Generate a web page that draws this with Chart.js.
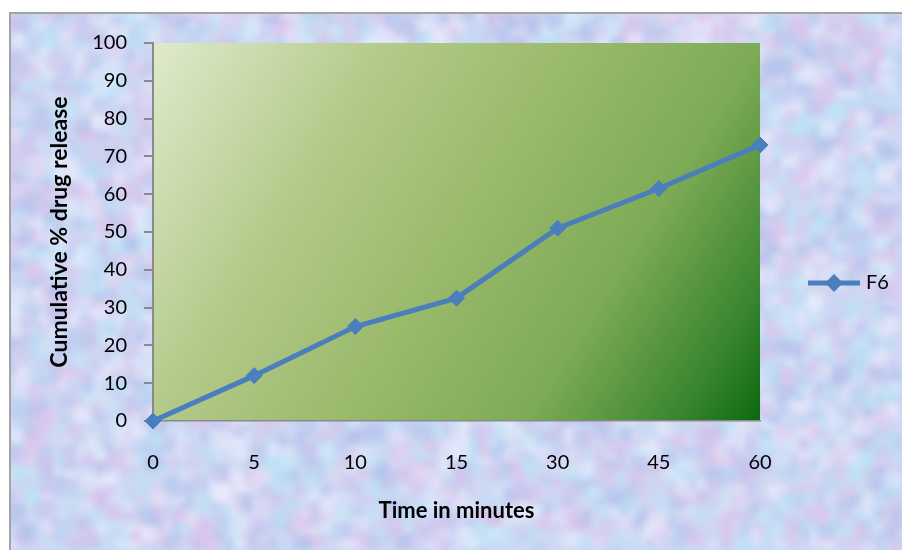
<!DOCTYPE html>
<html>
<head>
<meta charset="utf-8">
<script src="https://cdn.jsdelivr.net/npm/chart.js@4.4.1/dist/chart.umd.min.js"></script>
<style>
  html, body { margin: 0; padding: 0; background: #ffffff; }
  #wrap { width: 902px; height: 550px; }
</style>
</head>
<body>
<div id="wrap"><canvas id="releaseChart" width="902" height="550"></canvas></div>
<script>
// Chart data
var timeLabels = ['0', '5', '10', '15', '30', '45', '60'];
var f6Release = [0, 12, 25, 32.5, 51, 61.5, 73];
var seriesName = 'F6';
var yTicksMin = 0;
var yTicksMax = 100;
var yTicksStep = 10;

var lineBlue = '#4a7ebd';
var axisGray = '#8a8a8a';
var fontFamily = 'Lato, "Open Sans", sans-serif';

// Mottled lavender background, seeded so it draws the same every time
function makeTexture(w, h) {
    var raw = document.createElement('canvas');
    raw.width = w; raw.height = h;
    var g = raw.getContext('2d');
    g.fillStyle = '#cdd8f2';
    g.fillRect(0, 0, w, h);
    var seed = 12345;
    function rnd() {
        seed = (seed * 1103515245 + 12345) % 2147483648;
        return seed / 2147483648;
    }
    var tints = ['rgba(222,196,236,0.45)', 'rgba(188,228,246,0.45)',
                 'rgba(176,190,234,0.40)', 'rgba(234,238,252,0.45)'];
    for (var i = 0; i < 7000; i++) {
        var x = rnd() * w, y = rnd() * h, r = 3 + rnd() * 7;
        g.fillStyle = tints[Math.floor(rnd() * tints.length)];
        g.fillRect(x - r, y - r, r * 2, r * 2);
    }
    var soft = document.createElement('canvas');
    soft.width = w; soft.height = h;
    var s = soft.getContext('2d');
    s.fillStyle = '#cdd8f2';
    s.fillRect(0, 0, w, h);
    s.filter = 'blur(3px)';
    s.drawImage(raw, 0, 0);
    s.filter = 'none';
    return soft;
}

var backgroundPlugin = {
    id: 'sheetBackground',
    beforeDraw: function(chart) {
        var ctx = chart.ctx;
        var w = chart.width, h = chart.height;
        ctx.save();
        ctx.fillStyle = '#ffffff';
        ctx.fillRect(0, 0, w, h);
        if (!chart.$texture) chart.$texture = makeTexture(w, h);
        ctx.drawImage(chart.$texture, 11, 14, w - 11, h - 14, 11, 14, w - 11, h - 14);
        ctx.strokeStyle = '#a3a3a3';
        ctx.lineWidth = 2;
        ctx.beginPath();
        ctx.moveTo(10, h);
        ctx.lineTo(10, 13);
        ctx.lineTo(w, 13);
        ctx.stroke();

        // plot area gradient
        var a = chart.chartArea;
        var grad = ctx.createLinearGradient(a.left, a.top, a.right, a.bottom);
        grad.addColorStop(0, '#dfeacc');
        grad.addColorStop(0.28, '#b3ca8a');
        grad.addColorStop(0.5, '#9aba6c');
        grad.addColorStop(0.72, '#7eab56');
        grad.addColorStop(0.9, '#3a8530');
        grad.addColorStop(1, '#0b690f');
        ctx.fillStyle = grad;
        ctx.fillRect(a.left, a.top, a.right - a.left, a.bottom - a.top);
        ctx.restore();
    }
};

// Legend entry on the right, drawn with the dataset's own style
var sideLegendPlugin = {
    id: 'sideLegend',
    afterDraw: function(chart) {
        var ds = chart.data.datasets[0];
        var ctx = chart.ctx;
        var y = 283;
        ctx.save();
        ctx.strokeStyle = ds.borderColor;
        ctx.lineWidth = ds.borderWidth;
        ctx.beginPath();
        ctx.moveTo(808, y);
        ctx.lineTo(860, y);
        ctx.stroke();
        ctx.fillStyle = ds.pointBackgroundColor;
        ctx.beginPath();
        ctx.moveTo(834 - 9, y);
        ctx.lineTo(834, y - 9);
        ctx.lineTo(834 + 9, y);
        ctx.lineTo(834, y + 9);
        ctx.closePath();
        ctx.fill();
        ctx.fillStyle = '#000000';
        ctx.font = '20px ' + fontFamily;
        ctx.textBaseline = 'middle';
        ctx.fillText(ds.label, 866, y);
        ctx.restore();
    }
};

var ctx = document.getElementById('releaseChart');
new Chart(ctx, {
    type: 'line',
    data: {
        labels: timeLabels,
        datasets: [{
            label: seriesName,
            data: f6Release,
            borderColor: lineBlue,
            borderWidth: 5,
            pointStyle: 'rectRot',
            pointRadius: 8,
            pointBorderWidth: 1,
            pointBackgroundColor: lineBlue,
            pointBorderColor: lineBlue,
            tension: 0,
            clip: false
        }]
    },
    options: {
        responsive: false,
        animation: false,
        layout: { padding: { left: 0, top: 43, right: 142, bottom: 0 } },
        plugins: {
            legend: { display: false },
            tooltip: { enabled: false }
        },
        scales: {
            x: {
                type: 'category',
                offset: false,
                afterFit: function(scale) { scale.height = 129; },
                grid: { drawOnChartArea: false, drawTicks: false },
                border: { display: true, color: axisGray, width: 1.5 },
                ticks: {
                    color: '#000000',
                    padding: 30,
                    font: { family: fontFamily, size: 20 }
                },
                title: {
                    display: true,
                    text: 'Time in minutes',
                    color: '#000000',
                    padding: { top: 0, bottom: 26 },
                    font: { family: fontFamily, size: 22, weight: 'bold' }
                }
            },
            y: {
                min: yTicksMin,
                max: yTicksMax,
                afterFit: function(scale) { scale.width = 153; },
                grid: { drawOnChartArea: false, drawTicks: true, tickLength: 9, color: axisGray, lineWidth: 2 },
                border: { display: true, color: axisGray, width: 2 },
                ticks: {
                    stepSize: yTicksStep,
                    color: '#000000',
                    padding: 17,
                    font: { family: fontFamily, size: 20 }
                },
                title: {
                    display: true,
                    text: 'Cumulative % drug release',
                    color: '#000000',
                    padding: { top: 46, bottom: 0 },
                    font: { family: fontFamily, size: 23, weight: 'bold' }
                }
            }
        }
    },
    plugins: [backgroundPlugin, sideLegendPlugin]
});
</script>
</body>
</html>
